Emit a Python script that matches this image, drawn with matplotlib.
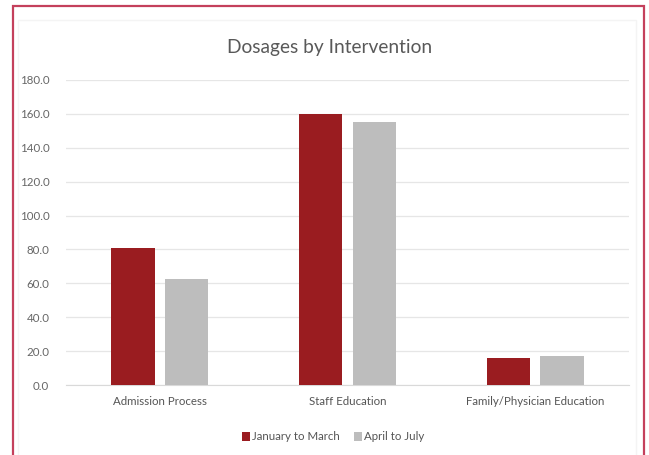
import matplotlib
matplotlib.use("Agg")
import matplotlib.pyplot as plt
from matplotlib.patches import Rectangle
import numpy as np

categories = ["Admission Process", "Staff Education", "Family/Physician Education"]
series_names = ["January to March", "April to July"]
jan_mar = [81.0, 160.0, 16.0]
apr_jul = [62.5, 155.0, 17.0]
yticks = [0, 20, 40, 60, 80, 100, 120, 140, 160, 180]

RED = "#9a1c20"
GRAY = "#bdbdbd"
TXT = "#666666"

plt.rcParams['font.family'] = ['Lato', 'DejaVu Sans']

fig = plt.figure(figsize=(6.49, 4.55), dpi=100)
fig.patch.set_facecolor("white")

# outer crimson frame
fig.add_artist(Rectangle((12.5/649, -0.01), (644-12.5)/649, 1 - 5.5/455 + 0.01,
                         transform=fig.transFigure, fill=False,
                         edgecolor="#c4405c", linewidth=1.6))
# faint inner chart frame
fig.add_artist(Rectangle((18/649, -0.01), (636-18)/649, 1 - 20/455 + 0.01,
                         transform=fig.transFigure, fill=False,
                         edgecolor="#f4f4f4", linewidth=1.0))

ax = fig.add_axes([66/649, 1 - 385/455, (629-66)/649, (385-80)/455])
x = np.arange(len(categories))
w = 0.23
off = 0.143
ax.bar(x - off, jan_mar, width=w, color=RED, label=series_names[0], zorder=3)
ax.bar(x + off, apr_jul, width=w, color=GRAY, label=series_names[1], zorder=3)

ax.set_xlim(-0.5, 2.5)
ax.set_ylim(0, 180)
ax.set_yticks(yticks)
ax.set_yticklabels([f"{v:.1f}" for v in yticks], fontsize=8.3, color=TXT)
ax.set_xticks(x)
ax.set_xticklabels(categories, fontsize=8.3, color="#555555")
ax.tick_params(axis="both", length=0)
ax.tick_params(axis="y", pad=12)
ax.tick_params(axis="x", pad=8)
ax.grid(axis="y", color="#e6e6e6", linewidth=0.9, zorder=0)
ax.spines["bottom"].set_color("#d9d9d9")
for s in ["top", "right", "left"]:
    ax.spines[s].set_visible(False)

fig.text(330/649, 1 - 48/455, "Dosages by Intervention", ha="center", va="center",
         fontsize=13.8, color="#595959")

leg = fig.legend(loc="center", bbox_to_anchor=(333/649, 1 - 437/455), ncol=2,
                 frameon=False, fontsize=8.3, handlelength=0.7, handleheight=0.7,
                 handletextpad=0.2, columnspacing=1.2)
for t in leg.get_texts():
    t.set_color("#555555")

fig.savefig("out.png", dpi=100, facecolor="white")
